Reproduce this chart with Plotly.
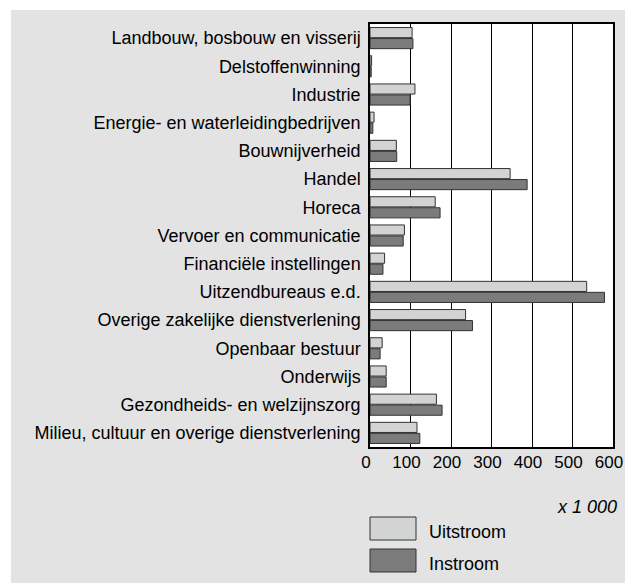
import plotly.graph_objects as go

categories = [
    "Landbouw, bosbouw en visserij",
    "Delstoffenwinning",
    "Industrie",
    "Energie- en waterleidingbedrijven",
    "Bouwnijverheid",
    "Handel",
    "Horeca",
    "Vervoer en communicatie",
    "Financiële instellingen",
    "Uitzendbureaus e.d.",
    "Overige zakelijke dienstverlening",
    "Openbaar bestuur",
    "Onderwijs",
    "Gezondheids- en welzijnszorg",
    "Milieu, cultuur en overige dienstverlening",
]
uitstroom = [104, 4, 111, 10, 65, 346, 161, 85, 36, 535, 236, 30, 40, 164, 116]
instroom = [106, 3, 99, 7, 66, 388, 173, 82, 32, 579, 253, 25, 40, 178, 123]
x_ticks = [0, 100, 200, 300, 400, 500, 600]
x_ticktext = ["0", "100", "200", "300", "400", "500", "600"]

W, H = 625, 583
ML, MR, MT, MB = 370, 12, 24, 136
PW, PH = W - ML - MR, H - MT - MB

def px(x):
    return (x - ML) / PW

def py(y):
    return (H - MB - y) / PH

FONT = "Liberation Sans, Arial, Helvetica, sans-serif"
FS = 18
LIGHT = "#d2d3d3"
DARK = "#7b7b7b"
EDGE = "#333333"
PANEL = "#e2e3e2"

fig = go.Figure()
fig.add_trace(go.Bar(y=categories, x=uitstroom, orientation="h", name="Uitstroom",
                     marker=dict(color=LIGHT, line=dict(color=EDGE, width=1))))
fig.add_trace(go.Bar(y=categories, x=instroom, orientation="h", name="Instroom",
                     marker=dict(color=DARK, line=dict(color=EDGE, width=1))))

shapes = [
    dict(type="rect", xref="paper", yref="paper", x0=px(0), x1=px(W), y0=py(0), y1=py(10),
         fillcolor="white", line=dict(width=0), layer="above"),
    dict(type="rect", xref="paper", yref="paper", x0=px(0), x1=px(11), y0=py(0), y1=py(H),
         fillcolor="white", line=dict(width=0), layer="above"),
    dict(type="rect", xref="paper", yref="paper", x0=px(370), x1=px(416), y0=py(540), y1=py(517),
         fillcolor=LIGHT, line=dict(color=EDGE, width=1)),
    dict(type="rect", xref="paper", yref="paper", x0=px(370), x1=px(416), y0=py(572), y1=py(549),
         fillcolor=DARK, line=dict(color=EDGE, width=1)),
]

annotations = [
    dict(text="<i>x 1 000</i>", xref="paper", yref="paper", x=px(619), y=py(507), xanchor="right",
         yanchor="middle", showarrow=False, font=dict(family=FONT, size=FS, color="black")),
    dict(text="Uitstroom", xref="paper", yref="paper", x=px(427), y=py(532), xanchor="left",
         yanchor="middle", showarrow=False, font=dict(family=FONT, size=FS, color="black")),
    dict(text="Instroom", xref="paper", yref="paper", x=px(427), y=py(564), xanchor="left",
         yanchor="middle", showarrow=False, font=dict(family=FONT, size=FS, color="black")),
]

fig.update_layout(
    width=W, height=H,
    margin=dict(l=ML, r=MR, t=MT, b=MB, pad=0, autoexpand=False),
    paper_bgcolor=PANEL,
    plot_bgcolor="white",
    barmode="group",
    bargap=0.22,
    bargroupgap=0.08,
    showlegend=False,
    font=dict(family=FONT, size=FS, color="black"),
    shapes=shapes,
    annotations=annotations,
    xaxis=dict(range=[0, 600], tickvals=x_ticks, ticktext=x_ticktext, tickangle=0,
               tickfont=dict(family=FONT, size=17, color="black"),
               showgrid=True, gridcolor="black", gridwidth=1,
               showline=True, linecolor="black", linewidth=1.5, mirror=True,
               ticks="outside", ticklen=0, tickcolor="rgba(0,0,0,0)",
               ticklabelshift=-4, ticklabelstandoff=-1,
               ticklabeloverflow="allow",
               zeroline=False, fixedrange=True, automargin=False),
    yaxis=dict(autorange="reversed", showgrid=False,
               showline=True, linecolor="black", linewidth=1.5, mirror=True,
               ticks="outside", ticklen=4, tickcolor="rgba(0,0,0,0)",
               fixedrange=True, automargin=False),
)

fig.write_html("out.html", config={"displayModeBar": False},
               post_script="document.body.style.margin='0';document.body.style.overflow='hidden';")
